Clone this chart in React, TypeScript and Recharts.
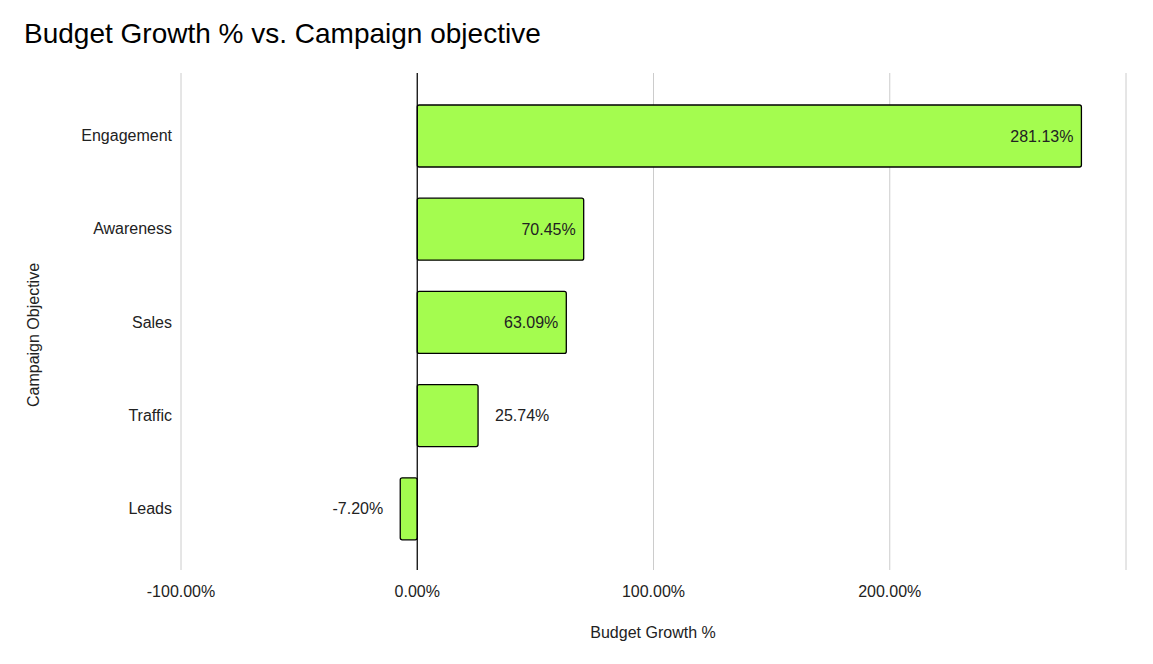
import { BarChart, Bar, XAxis, YAxis, CartesianGrid, ReferenceLine, LabelList } from 'recharts';

const categories = ['Engagement', 'Awareness', 'Sales', 'Traffic', 'Leads'];
const growth = [281.13, 70.45, 63.09, 25.74, -7.2];
const xTicks = [-100, 0, 100, 200, 300];

const data = categories.map((c, i) => ({ name: c, value: growth[i] }));

const font = '"Liberation Sans", Arial, sans-serif';

function ValueLabel(props: any) {
  const { x, y, width, height, value } = props;
  const left = Math.min(x, x + width);
  const right = Math.max(x, x + width);
  const w = right - left;
  const cy = y + height / 2;
  const text = `${Number(value).toFixed(2)}%`;
  let tx = right - 8;
  let anchor: 'end' | 'start' = 'end';
  if (value < 0) {
    tx = left - 17;
  } else if (w < 100) {
    tx = right + 17;
    anchor = 'start';
  }
  return (
    <text x={tx} y={cy} textAnchor={anchor} dominantBaseline="central" fontSize={16} fill="#222" fontFamily={font}>
      {text}
    </text>
  );
}

export default function App() {
  return (
    <div style={{ position: 'absolute', left: 0, top: 0, width: 1153, height: 664, background: '#fff', fontFamily: font }}>
      <div style={{ position: 'absolute', left: 24, top: 18, fontSize: 28, color: '#000' }}>
        Budget Growth % vs. Campaign objective
      </div>
      <svg style={{ position: 'absolute', left: 0, top: 0 }} width={60} height={664}>
        <text x={39} y={335} transform="rotate(-90 39 335)" textAnchor="middle" fontSize={16} fill="#222" fontFamily={font}>
          Campaign Objective
        </text>
      </svg>
      <div style={{ position: 'absolute', left: 0, top: 624, width: 1306, textAlign: 'center', fontSize: 16, color: '#222' }}>
        Budget Growth %
      </div>
      <div style={{ position: 'absolute', left: 0, top: 0 }}>
        <BarChart
          width={1153}
          height={664}
          data={data}
          layout="vertical"
          margin={{ top: 73, right: 27, bottom: 0, left: 41 }}
        >
          <CartesianGrid horizontal={false} stroke="#ccc" />
          <XAxis
            type="number"
            domain={[-100, 300]}
            ticks={xTicks}
            tickFormatter={(v: number) => (v === 300 ? '' : `${v.toFixed(2)}%`)}
            axisLine={false}
            tickLine={false}
            height={94}
            tick={{ fontSize: 16, fill: '#222', fontFamily: font }}
            tickMargin={10}
          />
          <YAxis
            type="category"
            dataKey="name"
            width={140}
            axisLine={false}
            tickLine={false}
            tickMargin={3}
            padding={{ top: 16, bottom: 15 }}
            tick={{ fontSize: 16, fill: '#222', fontFamily: font }}
          />
          <Bar dataKey="value" barSize={62} fill="#a4fc4f" stroke="#000" strokeWidth={1.3} radius={2} isAnimationActive={false}>
            <LabelList dataKey="value" content={ValueLabel} />
          </Bar>
          <ReferenceLine x={0} stroke="#000" strokeWidth={1.2} />
        </BarChart>
      </div>
    </div>
  );
}
